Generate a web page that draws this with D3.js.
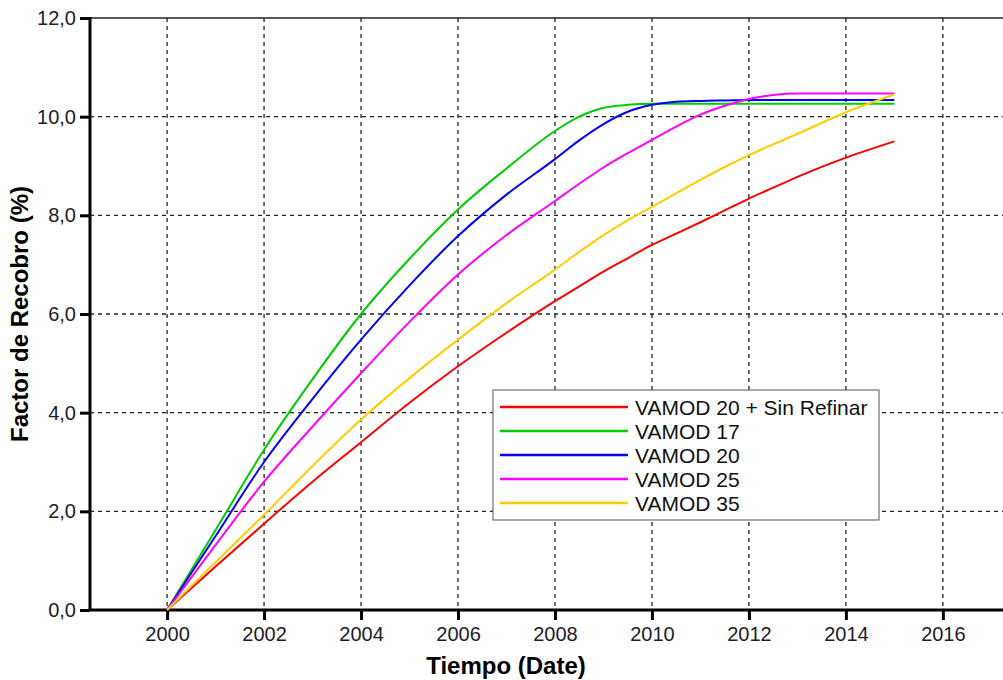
<!DOCTYPE html>
<html>
<head>
<meta charset="utf-8">
<script src="https://cdn.jsdelivr.net/npm/d3@7"></script>
<style>
  body { margin: 0; background: #fff; }
  text { font-family: "Liberation Sans", Arial, sans-serif; }
</style>
</head>
<body>
<div id="chart"></div>
<script>
var width = 1003,
    height = 680;

// data
var years      = [2000, 2001, 2002, 2003, 2004, 2005, 2006, 2007, 2008, 2008.5, 2009, 2009.5, 2010, 2010.5, 2011, 2011.5, 2012, 2012.5, 2013, 2014, 2015];
var sinRefinar = [0, 0.88, 1.75, 2.6, 3.4, 4.2, 4.94, 5.62, 6.26, 6.56, 6.86, 7.13, 7.4, 7.63, 7.86, 8.1, 8.34, 8.56, 8.78, 9.17, 9.5];
var vamod17    = [0, 1.62, 3.25, 4.68, 6.0, 7.12, 8.12, 8.95, 9.71, 10.0, 10.18, 10.24, 10.26, 10.26, 10.26, 10.26, 10.26, 10.26, 10.26, 10.26, 10.26];
var vamod20    = [0, 1.5, 3.0, 4.28, 5.48, 6.58, 7.58, 8.42, 9.14, 9.52, 9.85, 10.1, 10.24, 10.3, 10.32, 10.33, 10.34, 10.34, 10.34, 10.34, 10.34];
var vamod25    = [0, 1.32, 2.6, 3.72, 4.8, 5.84, 6.8, 7.6, 8.29, 8.64, 8.97, 9.26, 9.53, 9.8, 10.04, 10.22, 10.36, 10.44, 10.47, 10.47, 10.47];
var vamod35    = [0, 0.97, 1.93, 2.92, 3.86, 4.7, 5.48, 6.22, 6.9, 7.26, 7.6, 7.9, 8.17, 8.45, 8.72, 8.98, 9.22, 9.44, 9.65, 10.09, 10.45];

var seriesNames  = ["VAMOD 20 + Sin Refinar", "VAMOD 17", "VAMOD 20", "VAMOD 25", "VAMOD 35"];
var seriesValues = [sinRefinar, vamod17, vamod20, vamod25, vamod35];
var seriesColors = ["#ff0000", "#00cc00", "#0000ff", "#ff00ff", "#ffcc00"];

var xTicks = [2000, 2002, 2004, 2006, 2008, 2010, 2012, 2014, 2016];
var yTicks = [0, 2, 4, 6, 8, 10, 12];

var plot = { left: 90, top: 18, right: 1003, bottom: 610 };

var svg = d3.select("#chart")
    .append("svg")
    .attr("width", width)
    .attr("height", height);

var x = d3.scaleLinear()
    .domain([1998.41, 2017.24])
    .range([plot.left, plot.right]);

var y = d3.scaleLinear()
    .domain([0, 12])
    .range([plot.bottom, plot.top]);

// grid
svg.append("g")
    .selectAll("line")
    .data(xTicks)
    .enter()
    .append("line")
    .attr("x1", function (d) { return x(d); })
    .attr("x2", function (d) { return x(d); })
    .attr("y1", plot.top)
    .attr("y2", plot.bottom)
    .attr("stroke", "#222")
    .attr("stroke-width", 1.3)
    .attr("stroke-dasharray", "4,4");

svg.append("g")
    .selectAll("line")
    .data(yTicks.filter(function (d) { return d > 0 && d < 12; }))
    .enter()
    .append("line")
    .attr("x1", plot.left)
    .attr("x2", plot.right)
    .attr("y1", function (d) { return y(d); })
    .attr("y2", function (d) { return y(d); })
    .attr("stroke", "#222")
    .attr("stroke-width", 1.3)
    .attr("stroke-dasharray", "4,4");

// top border
svg.append("line")
    .attr("x1", plot.left)
    .attr("x2", plot.right)
    .attr("y1", y(12))
    .attr("y2", y(12))
    .attr("stroke", "#222")
    .attr("stroke-width", 1.5);

// axes
var xAxis = d3.axisBottom(x)
    .tickValues(xTicks)
    .tickSize(10)
    .tickPadding(7)
    .tickFormat(d3.format("d"));

var yAxis = d3.axisLeft(y)
    .tickValues(yTicks)
    .tickSize(10)
    .tickPadding(4)
    .tickFormat(function (d) { return d.toFixed(1).replace(".", ","); });

var gx = svg.append("g")
    .attr("transform", "translate(0," + plot.bottom + ")")
    .call(xAxis);

var gy = svg.append("g")
    .attr("transform", "translate(" + plot.left + ",0)")
    .call(yAxis);

[gx, gy].forEach(function (g) {
    g.select(".domain").remove();
    g.selectAll(".tick line").attr("stroke", "#000").attr("stroke-width", 3);
    g.selectAll(".tick text")
        .attr("fill", "#1c1c28")
        .style("font-size", "20px");
});

svg.append("line")
    .attr("x1", plot.left)
    .attr("x2", plot.right)
    .attr("y1", plot.bottom)
    .attr("y2", plot.bottom)
    .attr("stroke", "#000")
    .attr("stroke-width", 3);

svg.append("line")
    .attr("x1", plot.left)
    .attr("x2", plot.left)
    .attr("y1", plot.top - 1)
    .attr("y2", plot.bottom + 1)
    .attr("stroke", "#000")
    .attr("stroke-width", 3);

// axis titles
svg.append("text")
    .attr("x", 506)
    .attr("y", 674)
    .attr("text-anchor", "middle")
    .style("font-size", "24px")
    .style("font-weight", "bold")
    .text("Tiempo (Date)");

svg.append("text")
    .attr("transform", "translate(28," + (plot.top + plot.bottom) / 2 + ") rotate(-90)")
    .attr("text-anchor", "middle")
    .style("font-size", "24px")
    .style("font-weight", "bold")
    .text("Factor de Recobro (%)");

// curves
var line = d3.line()
    .x(function (d, i) { return x(years[i]); })
    .y(function (d) { return y(d); })
    .curve(d3.curveMonotoneX);

svg.append("g")
    .selectAll("path")
    .data(seriesValues)
    .enter()
    .append("path")
    .attr("d", line)
    .attr("fill", "none")
    .attr("stroke", function (d, i) { return seriesColors[i]; })
    .attr("stroke-width", 2);

// legend
var legend = svg.append("g")
    .attr("transform", "translate(493,390)");

legend.append("rect")
    .attr("width", 386)
    .attr("height", 130)
    .attr("fill", "#fff")
    .attr("stroke", "#555")
    .attr("stroke-width", 1);

var item = legend.selectAll(".item")
    .data(seriesNames)
    .enter()
    .append("g")
    .attr("class", "item")
    .attr("transform", function (d, i) { return "translate(0," + (17 + i * 24) + ")"; });

item.append("line")
    .attr("x1", 7)
    .attr("x2", 135)
    .attr("stroke", function (d, i) { return seriesColors[i]; })
    .attr("stroke-width", 2.5);

item.append("text")
    .attr("x", 142)
    .attr("dy", "0.36em")
    .style("font-size", "21px")
    .attr("fill", "#111")
    .text(function (d) { return d; });
</script>
</body>
</html>
